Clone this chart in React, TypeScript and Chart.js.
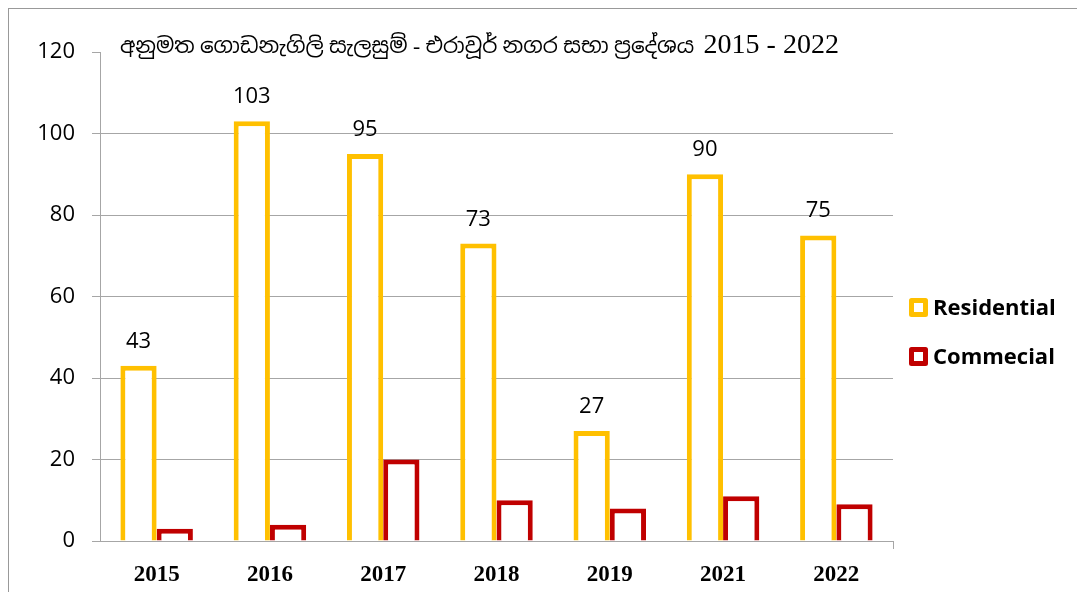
import React, { useEffect, useRef } from "react";
import { Chart, registerables } from "chart.js";

Chart.register(...registerables);

const titleMain = "අනුමත ගොඩනැගිලි සැලසුම් - එරාවූර් නගර සභා ප්‍රදේශය ";
const titleYears = "2015 - 2022";
const years = ["2015", "2016", "2017", "2018", "2019", "2021", "2022"];
const residential = [43, 103, 95, 73, 27, 90, 75];
const commercial = [3, 4, 20, 10, 8, 11, 9];
const seriesNames = ["Residential", "Commecial"];
const seriesColors = ["#FFC000", "#C00000"];
const yMin = 0;
const yMax = 120;
const yStep = 20;

const GRID = "#A6A6A6";
const SANS = "'Open Sans', 'DejaVu Sans', sans-serif";

const titlePlugin = {
  id: "sinhalaTitle",
  afterDraw(chart: any) {
    const { ctx, chartArea } = chart;
    ctx.save();
    ctx.fillStyle = "#000";
    ctx.textAlign = "left";
    ctx.textBaseline = "alphabetic";
    const x = chartArea.left + 20;
    const y = chartArea.top + 1;
    ctx.font = "21.5px 'Liberation Serif', 'Noto Sans Sinhala', serif";
    ctx.fillText(titleMain, x, y);
    const w = ctx.measureText(titleMain).width;
    ctx.font = "28px 'Liberation Serif', serif";
    ctx.fillText(titleYears, x + w + 4, y);
    ctx.restore();
  },
};

const valueLabelPlugin = {
  id: "valueLabels",
  afterDatasetsDraw(chart: any) {
    const { ctx } = chart;
    const meta = chart.getDatasetMeta(0);
    ctx.save();
    ctx.fillStyle = "#000";
    ctx.font = "22px " + SANS;
    ctx.textAlign = "center";
    ctx.textBaseline = "alphabetic";
    meta.data.forEach((bar: any, i: number) => {
      ctx.fillText(String(chart.data.datasets[0].data[i]), bar.x, bar.y - 18);
    });
    ctx.restore();
  },
};

const legendPlugin = {
  id: "sideLegend",
  afterDraw(chart: any) {
    const { ctx, chartArea } = chart;
    const x0 = chartArea.right + 16;
    const y0 = 289;
    const gap = 49;
    const size = 19;
    ctx.save();
    chart.data.datasets.forEach((ds: any, i: number) => {
      const y = y0 + i * gap;
      ctx.fillStyle = "#fff";
      ctx.fillRect(x0, y, size, size);
      ctx.strokeStyle = ds.borderColor;
      ctx.lineWidth = 5;
      ctx.lineJoin = "round";
      ctx.strokeRect(x0 + 2.5, y + 2.5, size - 5, size - 5);
      ctx.fillStyle = "#000";
      ctx.font = "bold 22px " + SANS;
      ctx.textAlign = "left";
      ctx.textBaseline = "middle";
      ctx.fillText(ds.label, x0 + size + 5, y + size / 2 + 1);
    });
    ctx.restore();
  },
};

const axisEndTickPlugin = {
  id: "axisEndTick",
  afterDraw(chart: any) {
    const { ctx, chartArea } = chart;
    ctx.save();
    ctx.strokeStyle = GRID;
    ctx.lineWidth = 1;
    ctx.beginPath();
    ctx.moveTo(chartArea.right + 0.5, chartArea.bottom);
    ctx.lineTo(chartArea.right + 0.5, chartArea.bottom + 8);
    ctx.stroke();
    ctx.restore();
  },
};

export default function App() {
  const canvasRef = useRef<HTMLCanvasElement | null>(null);

  useEffect(() => {
    if (!canvasRef.current) return;
    const chart = new Chart(canvasRef.current, {
      type: "bar",
      data: {
        labels: years,
        datasets: [
          {
            label: seriesNames[0],
            data: residential,
            backgroundColor: "#FFFFFF",
            borderColor: seriesColors[0],
            borderWidth: 5,
            categoryPercentage: 0.64,
            barPercentage: 1,
          },
          {
            label: seriesNames[1],
            data: commercial,
            backgroundColor: "#FFFFFF",
            borderColor: seriesColors[1],
            borderWidth: 5,
            categoryPercentage: 0.64,
            barPercentage: 1,
          },
        ],
      },
      options: {
        animation: false,
        responsive: true,
        maintainAspectRatio: false,
        layout: { padding: { top: 43, right: 184, left: 0, bottom: 0 } },
        plugins: {
          legend: { display: false },
          title: { display: false },
          tooltip: { enabled: false },
        },
        scales: {
          x: {
            grid: { display: false },
            border: { display: true, color: GRID, width: 1 },
            ticks: {
              color: "#000",
              padding: 12,
              font: { family: "'Liberation Serif', serif", weight: "bold", size: 23 },
            },
            afterFit(scale: any) {
              scale.height = 51;
            },
          },
          y: {
            min: yMin,
            max: yMax,
            ticks: {
              stepSize: yStep,
              color: "#000",
              padding: 17,
              font: { family: SANS, size: 22 },
            },
            grid: {
              color: (c: any) => (c.tick && c.tick.value === yMax ? "rgba(0,0,0,0)" : GRID),
              tickColor: GRID,
              tickLength: 8,
              lineWidth: 1,
            },
            border: { display: true, color: GRID, width: 1 },
            afterFit(scale: any) {
              scale.width = 91;
            },
          },
        },
      },
      plugins: [valueLabelPlugin, titlePlugin, legendPlugin, axisEndTickPlugin],
    });
    return () => chart.destroy();
  }, []);

  return (
    <div
      style={{
        position: "fixed",
        left: 8,
        top: 8,
        right: 0,
        bottom: 0,
        borderTop: "1px solid #999",
        borderLeft: "1px solid #999",
        background: "#fff",
      }}
    >
      <canvas ref={canvasRef} />
    </div>
  );
}
